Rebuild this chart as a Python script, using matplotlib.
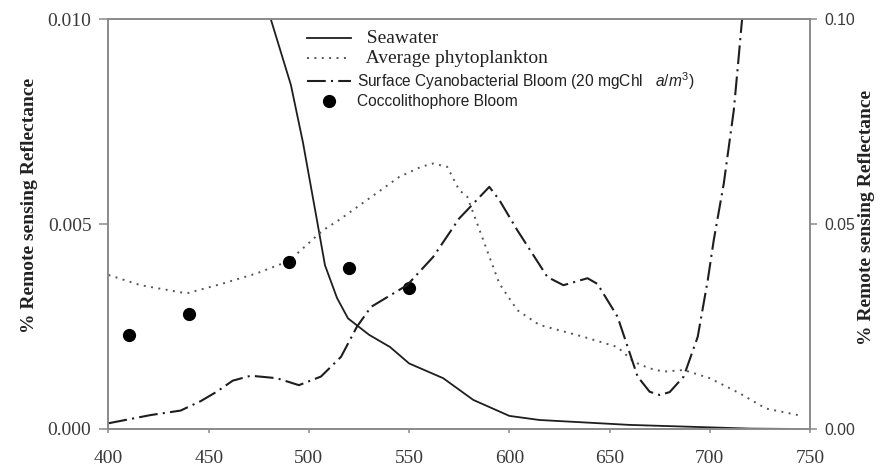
import matplotlib
matplotlib.use('Agg')
import matplotlib.pyplot as plt

plt.rcParams['mathtext.fontset'] = 'custom'
plt.rcParams['mathtext.rm'] = 'Liberation Sans'
plt.rcParams['mathtext.it'] = 'Liberation Sans:italic'

# Seawater (left axis)
sea_wl = [460, 470, 481, 491, 497, 504, 508, 514, 519.5, 530, 540.5, 550, 567, 582, 600, 615, 630, 645, 660, 680, 700, 720, 745]
sea_rrs = [0.0135, 0.0118, 0.0100, 0.0084, 0.0070, 0.0051, 0.0040, 0.0032, 0.0027, 0.0023, 0.0020, 0.0016, 0.00124, 0.00071, 0.00032, 0.00022, 0.00018, 0.00014, 0.00010, 0.00007, 0.00004, 0.00001, 0.0]

# Average phytoplankton (left axis)
phy_wl = [400, 416, 439, 457, 474, 490, 507, 515, 529, 545, 556, 562, 569, 575, 579, 587, 595, 604, 615, 637, 654, 662, 670, 677, 687, 700, 715, 728, 744]
phy_rrs = [0.00376, 0.00351, 0.00331, 0.00355, 0.0038, 0.0041, 0.00485, 0.0051, 0.00559, 0.00615, 0.00640, 0.00648, 0.0064, 0.00583, 0.00567, 0.00461, 0.00355, 0.0029, 0.00254, 0.00225, 0.0020, 0.00164, 0.00148, 0.0014, 0.00144, 0.00124, 0.00087, 0.0005, 0.00034]

# Surface cyanobacterial bloom (right axis)
cya_wl = [400, 421, 436, 446, 454, 462, 471, 484, 495, 506, 516, 524, 531, 549, 562, 575, 590, 595, 604, 619, 627, 639, 644, 654, 664, 670, 675, 680, 687, 694, 699, 702, 707, 712, 714, 716, 719]
cya_rrs = [0.0014, 0.0034, 0.0045, 0.0068, 0.0091, 0.0118, 0.0130, 0.0124, 0.0107, 0.0128, 0.0176, 0.0250, 0.0298, 0.0351, 0.0420, 0.0514, 0.0591, 0.0559, 0.0485, 0.0371, 0.0351, 0.0368, 0.0354, 0.0274, 0.0128, 0.0091, 0.0083, 0.0090, 0.0128, 0.0225, 0.0363, 0.0461, 0.0599, 0.0778, 0.0884, 0.0993, 0.112]

# Coccolithophore bloom (left axis)
coc_wl = [410, 440, 490, 520, 550]
coc_rrs = [0.00229, 0.0028, 0.00407, 0.00394, 0.00343]

serif = 'Liberation Serif'
sans = 'Liberation Sans'
spine_col = '#8a8a8a'
text_col = '#3a3a3a'
line_col = '#1e1e1e'

fig = plt.figure(figsize=(8.93, 4.66), dpi=100)
ax = fig.add_axes([0.1215, 0.0794, 0.7855, 0.8792])
ax2 = ax.twinx()

l1, = ax.plot(sea_wl, sea_rrs, color=line_col, lw=1.3, label='  Seawater')
l2, = ax.plot(phy_wl, phy_rrs, color='#555555', lw=1.4, linestyle=(0, (1, 2.8)), label='  Average phytoplankton')
l3, = ax2.plot(cya_wl, cya_rrs, color=line_col, lw=1.5, linestyle=(0, (9, 2.5, 1, 2.5)),
               label='Surface Cyanobacterial Bloom (20 mgChl   $\\mathit{a/m}^3$)')
l4, = ax.plot(coc_wl, coc_rrs, 'o', color='black', ms=8.5, linestyle='none', label='Coccolithophore Bloom')

ax.set_xlim(400, 750)
ax.set_ylim(0, 0.010)
ax2.set_ylim(0, 0.10)
ax.set_xticks([400, 450, 500, 550, 600, 650, 700, 750])
ax.set_yticks([0.0, 0.005, 0.010])
ax.set_yticklabels(['0.000', '0.005', '0.010'])
ax2.set_yticks([0.0, 0.05, 0.10])
ax2.set_yticklabels(['0.00', '0.05', '0.10'])

for a in (ax, ax2):
    for s in a.spines.values():
        s.set_color(spine_col)
        s.set_linewidth(1.2)
ax.tick_params(axis='x', direction='out', length=3, width=1.1, color=spine_col, labelcolor=text_col, labelsize=14, pad=12)
ax.tick_params(axis='y', direction='out', length=6.5, width=1.1, color=spine_col, labelcolor=text_col, labelsize=14, pad=5.8)
ax2.tick_params(axis='y', direction='out', length=5, width=1.1, color=spine_col, labelcolor=text_col, labelsize=11.3, pad=5.3)
for t in ax.get_xticklabels() + ax.get_yticklabels():
    t.set_fontfamily(serif)
for t in ax2.get_yticklabels():
    t.set_fontfamily(sans)

ax.set_ylabel('% Remote sensing Reflectance', fontfamily=serif, fontweight='bold', fontsize=14, color='#222222')
ax2.set_ylabel('% Remote sensing Reflectance', fontfamily=serif, fontweight='bold', fontsize=14, color='#222222',
               rotation=90)
ax.yaxis.set_label_coords(-0.1005, 0.546)
ax2.yaxis.set_label_coords(1.068, 0.517)

leg = ax.legend(handles=[l1, l2, l3, l4], loc='upper left', bbox_to_anchor=(0.268, 1.0), frameon=False,
                fontsize=11.3, handlelength=2.8, handletextpad=0.35, labelspacing=0.18, borderaxespad=0.3)
fonts = [(serif, 14), (serif, 14), (sans, 11.2), (sans, 11.2)]
for t, (fam, sz) in zip(leg.get_texts(), fonts):
    t.set_fontfamily(fam)
    t.set_fontsize(sz)
    t.set_color('#222222')

fig.savefig('out.png', dpi=100)
